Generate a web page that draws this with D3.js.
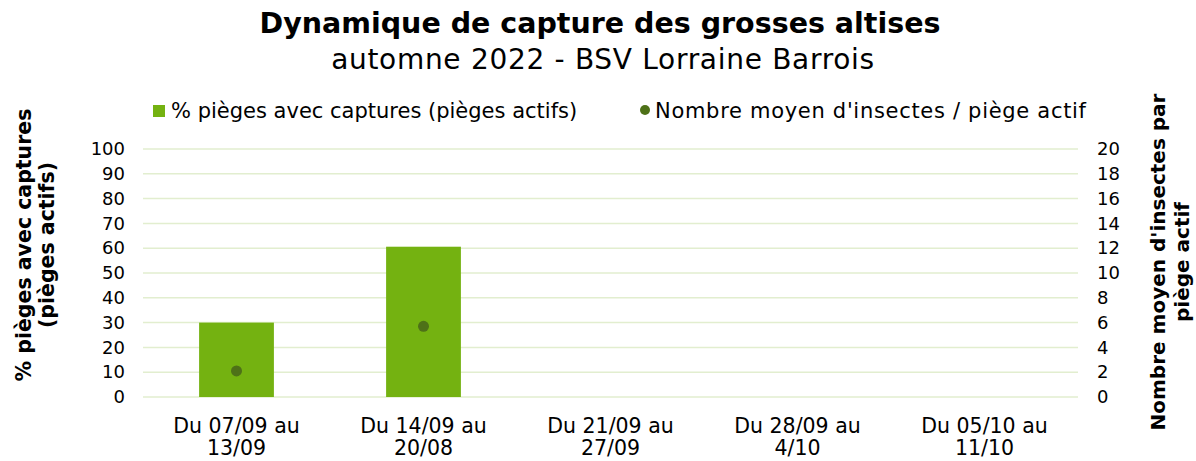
<!DOCTYPE html>
<html>
<head>
<meta charset="utf-8">
<script src="https://cdn.jsdelivr.net/npm/d3@7"></script>
<style>
  body { margin: 0; background: #fff; }
  text { font-family: "DejaVu Sans", Verdana, sans-serif; fill: #000; }
</style>
</head>
<body>
<div id="chart"></div>
<script>
// Data
const categories = ['Du 07/09 au\n13/09', 'Du 14/09 au\n20/08', 'Du 21/09 au\n27/09', 'Du 28/09 au\n4/10', 'Du 05/10 au\n11/10'];
const pctPieges = [30, 60.6, null, null, null];
const nbMoyen = [2.1, 5.7, null, null, null];
const leftTicks = [0, 10, 20, 30, 40, 50, 60, 70, 80, 90, 100];
const rightTicks = [0, 2, 4, 6, 8, 10, 12, 14, 16, 18, 20];

const W = 1196, H = 461;
const margin = {top: 149, right: 118, bottom: 64, left: 143};
const width = W - margin.left - margin.right;
const height = H - margin.top - margin.bottom;

const svg = d3.select('#chart').append('svg')
    .attr('width', W)
    .attr('height', H);

const g = svg.append('g')
    .attr('transform', `translate(${margin.left}, ${margin.top})`);

// Scales
const x = d3.scaleBand().domain(categories).range([0, width]).paddingInner(0.6).paddingOuter(0.3);
const y = d3.scaleLinear().domain([0, 100]).range([height, 0]);
const y2 = d3.scaleLinear().domain([0, 20]).range([height, 0]);

// Gridlines
g.selectAll('.grid')
    .data(leftTicks)
    .enter().append('line')
    .attr('x1', 0).attr('x2', width)
    .attr('y1', d => y(d)).attr('y2', d => y(d))
    .attr('stroke', '#E2EECF')
    .attr('stroke-width', 1.5);

// Bars
g.selectAll('.bar')
    .data(categories.map((c, i) => ({c, v: pctPieges[i]})).filter(d => d.v != null))
    .enter().append('rect')
    .attr('x', d => x(d.c))
    .attr('y', d => y(d.v))
    .attr('width', x.bandwidth())
    .attr('height', d => height - y(d.v))
    .attr('fill', '#74B211');

// Points
g.selectAll('.dot')
    .data(categories.map((c, i) => ({c, v: nbMoyen[i]})).filter(d => d.v != null))
    .enter().append('circle')
    .attr('cx', d => x(d.c) + x.bandwidth() / 2)
    .attr('cy', d => y2(d.v))
    .attr('r', 5.5)
    .attr('fill', '#4E7118');

// Left axis
const yAxis = g.append('g')
    .call(d3.axisLeft(y).tickValues(leftTicks).tickSize(0).tickPadding(18));
yAxis.select('.domain').remove();
yAxis.selectAll('text').style('font-size', '18px').style('font-family', '"DejaVu Sans", Verdana, sans-serif');

// Right axis
const y2Axis = g.append('g')
    .attr('transform', `translate(${width}, 0)`)
    .call(d3.axisRight(y2).tickValues(rightTicks).tickSize(0).tickPadding(19));
y2Axis.select('.domain').remove();
y2Axis.selectAll('text').style('font-size', '18px').style('font-family', '"DejaVu Sans", Verdana, sans-serif');

// X axis labels
const xLabels = g.append('g')
    .attr('transform', `translate(0, ${height})`)
    .selectAll('text')
    .data(categories)
    .enter().append('text')
    .attr('text-anchor', 'middle')
    .attr('x', d => x(d) + x.bandwidth() / 2)
    .style('font-size', '20.5px');
xLabels.selectAll('tspan')
    .data(d => d.split('\n'))
    .enter().append('tspan')
    .attr('x', function() { return d3.select(this.parentNode).attr('x'); })
    .attr('y', (d, i) => 36 + i * 22)
    .text(d => d);

// Title
svg.append('text')
    .attr('x', 600).attr('y', 33)
    .attr('text-anchor', 'middle')
    .style('font-size', '28.5px').style('font-weight', 'bold')
    .text('Dynamique de capture des grosses altises');
svg.append('text')
    .attr('x', 603).attr('y', 69)
    .attr('text-anchor', 'middle')
    .style('font-size', '28px')
    .style('letter-spacing', '0.7px')
    .text('automne 2022 - BSV Lorraine Barrois');

// Legend
svg.append('rect')
    .attr('x', 153).attr('y', 105).attr('width', 12).attr('height', 12)
    .attr('fill', '#74B211');
svg.append('text')
    .attr('x', 171).attr('y', 118)
    .style('font-size', '21px')
    .text('% pièges avec captures (pièges actifs)');
svg.append('circle')
    .attr('cx', 645).attr('cy', 110).attr('r', 5)
    .attr('fill', '#4E7118');
svg.append('text')
    .attr('x', 655).attr('y', 118)
    .style('font-size', '21px')
    .style('letter-spacing', '0.7px')
    .text("Nombre moyen d'insectes / piège actif");

// Axis titles
const leftTitle = svg.append('text')
    .attr('transform', 'translate(0, 245) rotate(-90)')
    .attr('text-anchor', 'middle')
    .style('font-size', '20.5px').style('font-weight', 'bold');
leftTitle.append('tspan').attr('x', 0).attr('y', 31).text('% pièges avec captures');
leftTitle.append('tspan').attr('x', 0).attr('y', 54).text('(pièges actifs)');

const rightTitle = svg.append('text')
    .attr('transform', 'translate(0, 262) rotate(-90)')
    .attr('text-anchor', 'middle')
    .style('font-size', '20px').style('font-weight', 'bold');
rightTitle.append('tspan').attr('x', 0).attr('y', 1165).text("Nombre moyen d'insectes par");
rightTitle.append('tspan').attr('x', 0).attr('y', 1189).text('piège actif');
</script>
</body>
</html>
